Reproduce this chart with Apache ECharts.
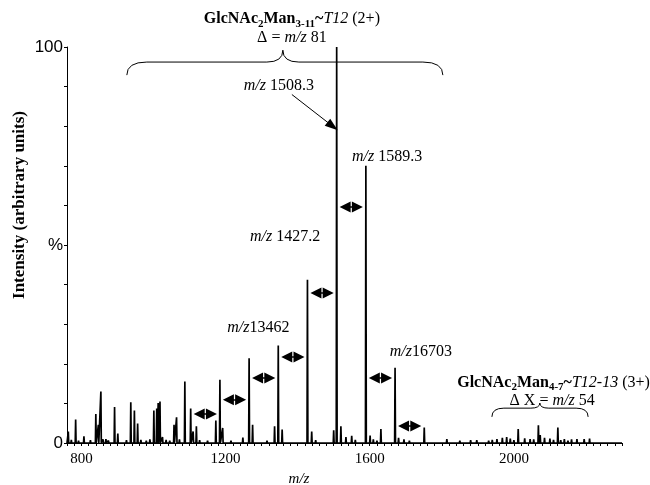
<!DOCTYPE html>
<html>
<head>
<meta charset="utf-8">
<script src="https://cdn.jsdelivr.net/npm/echarts@6/dist/echarts.min.js"></script>
<style>
  html, body { margin: 0; padding: 0; background: #fff; }
  #main { width: 650px; height: 485px; }
</style>
</head>
<body>
<div id="main"></div>
<script>
// peaks: m/z and relative intensity (%)
var peakMz = [763.6, 784, 807, 840, 847, 854, 868, 892, 901, 937, 947, 956,
  1001, 1009, 1013, 1018, 1025, 1057, 1064, 1087, 1103.2, 1110, 1119,
  1173, 1184.3, 1192, 1248, 1265.3, 1275, 1336, 1346.2, 1357,
  1427.2, 1439, 1500, 1508.3, 1520, 1534, 1550,
  1589.3, 1601, 1631, 1670.3, 1680, 1695, 1751.3, 1814, 1897,
  1953, 1968, 1980, 1990, 2012, 2030, 2045, 2068, 2073, 2085, 2100,
  2122, 2140, 2160, 2175, 2195, 2210]
var peakInt = [2.9, 5.9, 1.7, 7.3, 4.6, 13, 1.0, 9.1, 2.4, 10.3, 8.2, 4.9,
  8.2, 8.7, 10.1, 10.5, 1.5, 4.6, 6.5, 15.5, 8.7, 2.9, 4.2,
  5.7, 16.0, 3.8, 1.4, 21.4, 4.6, 4.2, 24.6, 3.4,
  41.2, 2.9, 3.2, 100, 4.2, 1.5, 1.8,
  70.0, 1.9, 3.5, 19.0, 1.3, 0.9, 3.9, 1.0, 0.7,
  1.0, 1.3, 1.5, 1.1, 3.5, 1.2, 1.0, 4.5, 2.0, 1.3, 1.1,
  3.9, 1.0, 0.9, 1.0, 1.0, 1.1]

// low baseline grass
var noiseMz = [772, 792, 815, 825, 860, 875, 915, 925, 965, 980, 990, 1035, 1045,
  1072, 1128, 1140, 1150, 1160, 1205, 1215, 1230, 1285, 1300, 1315, 1370, 1385,
  1400, 1450, 1465, 1480, 1560, 1575, 1610, 1620, 1645, 1660, 1710, 1725, 1740,
  1770, 1790, 1830, 1850, 1870, 1880, 1915, 1930, 1940, 2000, 2055, 2110, 2130,
  2150, 2185, 2220, 2240, 2260, 2280]
var noiseInt = [0.8, 0.6, 0.5, 0.7, 0.9, 0.6, 0.5, 0.7, 0.8, 0.6, 0.9, 0.8, 0.6,
  0.9, 0.7, 0.5, 0.6, 0.5, 0.4, 0.6, 0.5, 0.4, 0.5, 0.6, 0.5, 0.4,
  0.5, 0.7, 0.5, 0.4, 0.8, 0.5, 0.9, 0.6, 0.5, 0.4, 0.6, 0.5, 0.4,
  0.5, 0.4, 0.5, 0.6, 0.4, 0.7, 0.5, 0.6, 0.8, 0.7, 0.9, 0.8, 0.7,
  0.6, 0.5, 0.5, 0.4, 0.4, 0.3]

// the 2+ ladder (delta m/z 81) and heights of the double arrows between steps
var ladderMz = [1103.2, 1184.3, 1265.3, 1346.2, 1427.2, 1508.3, 1589.3, 1670.3, 1751.3]
var arrowInt = [7.3, 10.9, 16.4, 21.7, 37.9, 59.6, 16.4, 4.3]

var xLabels = [800, 1200, 1600, 2000]
var yLabels = { 0: '0', 50: '%', 100: '100' }

var serif = 'Liberation Serif'
var sans = 'Liberation Sans'

// stick spectrum -> profile points
var sticks = []
peakMz.forEach(function (m, i) { sticks.push([m, peakInt[i]]) })
noiseMz.forEach(function (m, i) { sticks.push([m, noiseInt[i]]) })
sticks.sort(function (a, b) { return a[0] - b[0] })
var profile = [[760, 0]]
sticks.forEach(function (p) {
  profile.push([p[0] - 1.2, 0], [p[0], p[1]], [p[0] + 1.2, 0])
})
profile.push([2300, 0])

var arrows = []
for (var i = 0; i < arrowInt.length; i++) {
  var mid = (ladderMz[i] + ladderMz[i + 1]) / 2
  arrows.push([{ coord: [mid - 17, arrowInt[i]] }, { coord: [mid + 17, arrowInt[i]] }])
}
// pointer to m/z 1508.3
arrows.push([
  { coord: [1384, 88], symbol: 'none', lineStyle: { width: 1 } },
  { coord: [1497, 80], symbol: 'triangle', symbolSize: [9, 13] }
])

var chart = echarts.init(document.getElementById('main'))
chart.setOption({
  animation: false,
  grid: { left: 67, right: 28, top: 47, bottom: 42, outerBoundsMode: 'none' },
  xAxis: {
    type: 'value', min: 760, max: 2300, interval: 20,
    axisLine: { lineStyle: { color: '#000', width: 1 } },
    axisTick: { length: 3, lineStyle: { color: '#000' } },
    splitLine: { show: false },
    axisLabel: {
      color: '#000', fontFamily: serif, fontSize: 15, margin: 9,
      formatter: function (v) { return xLabels.indexOf(v) >= 0 ? String(v) : '' }
    }
  },
  yAxis: {
    type: 'value', min: 0, max: 100, interval: 10,
    axisLine: { show: true, lineStyle: { color: '#000', width: 1 } },
    axisTick: { show: true, length: 3, lineStyle: { color: '#000' } },
    splitLine: { show: false },
    axisLabel: {
      color: '#000', fontFamily: sans, fontSize: 17, margin: 4,
      formatter: function (v) { return yLabels[v] || '' }
    }
  },
  series: [{
    type: 'line',
    data: profile,
    showSymbol: false,
    silent: true,
    lineStyle: { color: '#000', width: 1.7 },
    markLine: {
      silent: true,
      symbol: ['triangle', 'triangle'],
      symbolSize: [11, 11],
      label: { show: false },
      lineStyle: { color: '#000', width: 1.5, type: 'solid' },
      emphasis: { disabled: true },
      data: arrows
    }
  }]
})

function px (mz, y) { return chart.convertToPixel({ gridIndex: 0 }, [mz, y]) }

var rich = {
  b: { fontFamily: serif, fontWeight: 'bold', fontSize: 16, lineHeight: 20, color: '#000' },
  bs: { fontFamily: serif, fontWeight: 'bold', fontSize: 11, lineHeight: 11, verticalAlign: 'bottom', color: '#000' },
  i: { fontFamily: serif, fontStyle: 'italic', fontSize: 16, lineHeight: 20, color: '#000' },
  n: { fontFamily: serif, fontSize: 16, lineHeight: 20, color: '#000' }
}

var notes = [
  [1384, 107.0, '{b|GlcNAc}{bs|2}{b|Man}{bs|3-11}{b|~}{i|T12}{n| (2+)}'],
  [1384, 102.3, '{n|Δ = }{i|m/z}{n| 81}'],
  [1348, 90.2, '{i|m/z}{n| 1508.3}'],
  [1648, 72.2, '{i|m/z}{n| 1589.3}'],
  [1365, 52.0, '{i|m/z}{n| 1427.2}'],
  [1291, 29.0, '{i|m/z}{n|13462}'],
  [1742, 23.0, '{i|m/z}{n|16703}'],
  [2110, 15.2, '{b|GlcNAc}{bs|2}{b|Man}{bs|4-7}{b|~}{i|T12-13}{n| (3+)}'],
  [2106, 10.6, '{n|Δ X = }{i|m/z}{n| 54}']
]

var elements = []
notes.forEach(function (n) {
  var p = px(n[0], n[1])
  elements.push({
    type: 'text', x: p[0], y: p[1], silent: true,
    style: { text: n[2], rich: rich, align: 'center', verticalAlign: 'middle' }
  })
})

// curly brace: ends at yEnd, straight part at yLine, tip at yTip
function brace (x1, xc, x2, yEnd, yLine, yTip, r, rc) {
  var a = px(x1, yEnd), b = px(x2, yEnd), l = px(xc, yLine), t = px(xc, yTip)
  var yl = l[1]
  var st = { stroke: '#000', lineWidth: 1, fill: null }
  return [
    { type: 'bezierCurve', shape: { x1: a[0], y1: a[1], cpx1: a[0], cpy1: yl, x2: a[0] + r, y2: yl }, style: st, silent: true },
    { type: 'line', shape: { x1: a[0] + r, y1: yl, x2: t[0] - rc, y2: yl }, style: st, silent: true },
    { type: 'bezierCurve', shape: { x1: t[0] - rc, y1: yl, cpx1: t[0], cpy1: yl, x2: t[0], y2: t[1] }, style: st, silent: true },
    { type: 'bezierCurve', shape: { x1: t[0], y1: t[1], cpx1: t[0], cpy1: yl, x2: t[0] + rc, y2: yl }, style: st, silent: true },
    { type: 'line', shape: { x1: t[0] + rc, y1: yl, x2: b[0] - r, y2: yl }, style: st, silent: true },
    { type: 'bezierCurve', shape: { x1: b[0] - r, y1: yl, cpx1: b[0], cpy1: yl, x2: b[0], y2: b[1] }, style: st, silent: true }
  ]
}
elements = elements.concat(brace(926, 1359, 1803, 92.9, 96.2, 99.2, 20, 16))
elements = elements.concat(brace(1939, 2072, 2206, 6.6, 8.8, 10.1, 12, 9))

// axis titles
elements.push({
  type: 'text', x: 20, y: 205, rotation: Math.PI / 2, silent: true,
  style: { text: 'Intensity (arbitrary units)', font: 'bold 17px ' + serif, fill: '#000', align: 'center', verticalAlign: 'middle' }
})
elements.push({
  type: 'text', x: 299, y: 479, silent: true,
  style: { text: 'm/z', font: 'italic 15px ' + serif, fill: '#000', align: 'center', verticalAlign: 'middle' }
})

chart.setOption({ graphic: { elements: elements } })
window.addEventListener('resize', function () { chart.resize() })
</script>
</body>
</html>
